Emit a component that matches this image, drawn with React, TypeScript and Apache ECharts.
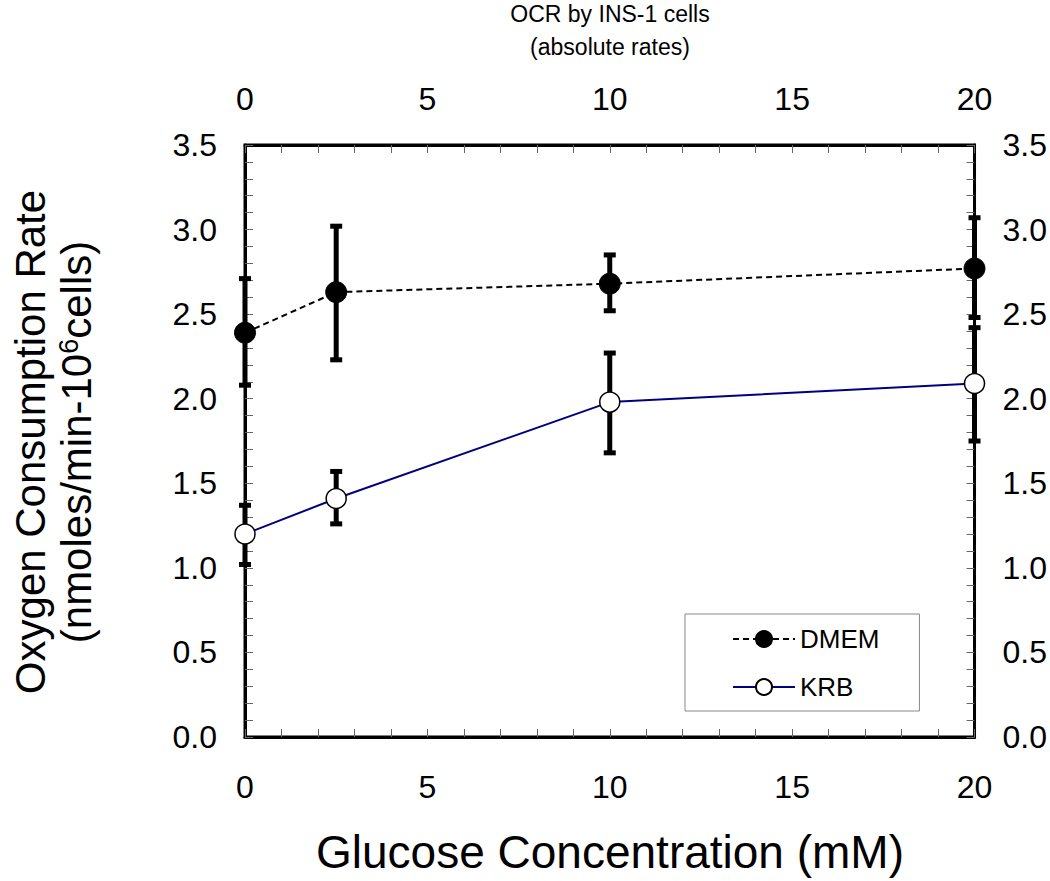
import React, { useEffect, useRef } from "react";
import * as echarts from "echarts";

const glucose = [0, 2.5, 10, 20];
const dmemMean = [2.39, 2.63, 2.68, 2.77];
const dmemLow = [2.08, 2.23, 2.52, 2.48];
const dmemHigh = [2.71, 3.02, 2.85, 3.07];
const krbMean = [1.2, 1.41, 1.98, 2.09];
const krbLow = [1.02, 1.26, 1.68, 1.75];
const krbHigh = [1.37, 1.57, 2.27, 2.42];

const seriesNames = ["DMEM", "KRB"];
const titleLines = ["OCR by INS-1 cells", "(absolute rates)"];
const xTitle = "Glucose Concentration (mM)";
const yTitle1 = "Oxygen Consumption Rate";
const yTitle2 = "(nmoles/min-10{sup|6}cells)";

const FONT = '"Liberation Sans", Arial, Helvetica, sans-serif';

function errorBarItem(params: any, api: any) {
  const x = api.value(0);
  const lo = api.coord([x, api.value(1)]);
  const hi = api.coord([x, api.value(2)]);
  const cap = 6;
  const style = { stroke: "#000", lineWidth: 5, fill: "none" };
  return {
    type: "group",
    children: [
      { type: "line", shape: { x1: lo[0], y1: lo[1], x2: hi[0], y2: hi[1] }, style },
      { type: "line", shape: { x1: lo[0] - cap, y1: lo[1], x2: lo[0] + cap, y2: lo[1] }, style },
      { type: "line", shape: { x1: hi[0] - cap, y1: hi[1], x2: hi[0] + cap, y2: hi[1] }, style },
    ],
  };
}

export default function App() {
  const ref = useRef<HTMLDivElement>(null);
  useEffect(() => {
    if (!ref.current) return;
    const chart = echarts.init(ref.current, null, { renderer: "svg" });
    const axisLine = { show: true, onZero: false, lineStyle: { color: "#000", width: 3 } };
    const axisTick = { show: true, inside: true, length: 8, lineStyle: { color: "#666", width: 1 } };
    const minorTick = { show: true, splitNumber: 5, length: 8, lineStyle: { color: "#666", width: 1 } };
    const xLabel = { fontSize: 32, color: "#000", fontFamily: FONT };
    const baseX = {
      type: "value",
      min: 0,
      max: 20,
      interval: 5,
      axisLine,
      axisTick,
      minorTick,
      splitLine: { show: false },
    };
    const baseY = {
      type: "value",
      min: 0,
      max: 3.5,
      interval: 0.5,
      axisLine,
      axisTick,
      minorTick,
      splitLine: { show: false },
    };
    const dataD = glucose.map((g, i) => [g, dmemMean[i]]);
    const dataK = glucose.map((g, i) => [g, krbMean[i]]);
    const errD = glucose.map((g, i) => [g, dmemLow[i], dmemHigh[i]]);
    const errK = glucose.map((g, i) => [g, krbLow[i], krbHigh[i]]);
    chart.setOption({
      animation: false,
      backgroundColor: "#fff",
      textStyle: { fontFamily: FONT },
      grid: {
        left: 245,
        top: 145,
        width: 731,
        height: 592,
        containLabel: false,
        show: true,
        borderColor: "#000",
        borderWidth: 3,
        backgroundColor: "transparent",
      },
      xAxis: [
        { ...baseX, position: "bottom", axisLabel: { ...xLabel, margin: 34 } },
        { ...baseX, position: "top", axisLabel: { ...xLabel, margin: 30 } },
      ],
      yAxis: [
        {
          ...baseY,
          position: "left",
          axisLabel: { ...xLabel, margin: 28, formatter: (v: number) => v.toFixed(1) },
        },
        {
          ...baseY,
          position: "right",
          axisLabel: { ...xLabel, margin: 28, formatter: (v: number) => v.toFixed(1) },
        },
      ],
      legend: {
        show: true,
        orient: "vertical",
        left: 685,
        top: 614,
        padding: [12, 40, 11, 47],
        itemWidth: 62,
        itemHeight: 20,
        itemGap: 22,
        borderColor: "#888",
        borderWidth: 1,
        textStyle: { fontSize: 26, color: "#000", fontFamily: FONT },
        data: seriesNames,
      },
      series: [
        {
          type: "custom",
          name: "errD",
          renderItem: errorBarItem,
          data: errD,
          encode: { x: 0, y: [1, 2] },
          clip: false,
          z: 1,
        },
        {
          type: "custom",
          name: "errK",
          renderItem: errorBarItem,
          data: errK,
          encode: { x: 0, y: [1, 2] },
          clip: false,
          z: 1,
        },
        {
          type: "line",
          name: seriesNames[0],
          data: dataD,
          symbol: "circle",
          symbolSize: 21,
          showAllSymbol: true,
          clip: false,
          z: 3,
          lineStyle: { color: "#000", width: 2, type: [6, 4] },
          itemStyle: { color: "#000", borderColor: "#000", borderWidth: 1 },
        },
        {
          type: "line",
          name: seriesNames[1],
          data: dataK,
          symbol: "circle",
          symbolSize: 20,
          showAllSymbol: true,
          clip: false,
          z: 3,
          lineStyle: { color: "#000080", width: 2 },
          itemStyle: { color: "#fff", borderColor: "#000", borderWidth: 1.5 },
        },
      ],
      graphic: [
        {
          type: "text",
          x: 610,
          y: 14,
          style: { text: titleLines[0], font: `23px ${FONT}`, fill: "#000", textAlign: "center", textVerticalAlign: "middle" },
        },
        {
          type: "text",
          x: 610,
          y: 47,
          style: { text: titleLines[1], font: `23px ${FONT}`, fill: "#000", textAlign: "center", textVerticalAlign: "middle" },
        },
        {
          type: "text",
          x: 610,
          y: 852,
          style: { text: xTitle, font: `46px ${FONT}`, fill: "#000", textAlign: "center", textVerticalAlign: "middle" },
        },
        {
          type: "text",
          x: 30,
          y: 442,
          rotation: Math.PI / 2,
          style: { text: yTitle1, font: `42px ${FONT}`, fill: "#000", textAlign: "center", textVerticalAlign: "middle" },
        },
        {
          type: "text",
          x: 76,
          y: 442,
          rotation: Math.PI / 2,
          style: {
            text: yTitle2,
            font: `42px ${FONT}`,
            fontSize: 42,
            fontFamily: FONT,
            fill: "#000",
            textAlign: "center",
            textVerticalAlign: "middle",
            rich: {
              sup: { fontSize: 27, fontFamily: FONT, verticalAlign: "top", fill: "#000" },
            },
          },
        },
      ],
    });
    return () => chart.dispose();
  }, []);
  return (
    <div
      ref={ref}
      style={{ position: "absolute", left: 0, top: 0, width: 1050, height: 881 }}
    />
  );
}
